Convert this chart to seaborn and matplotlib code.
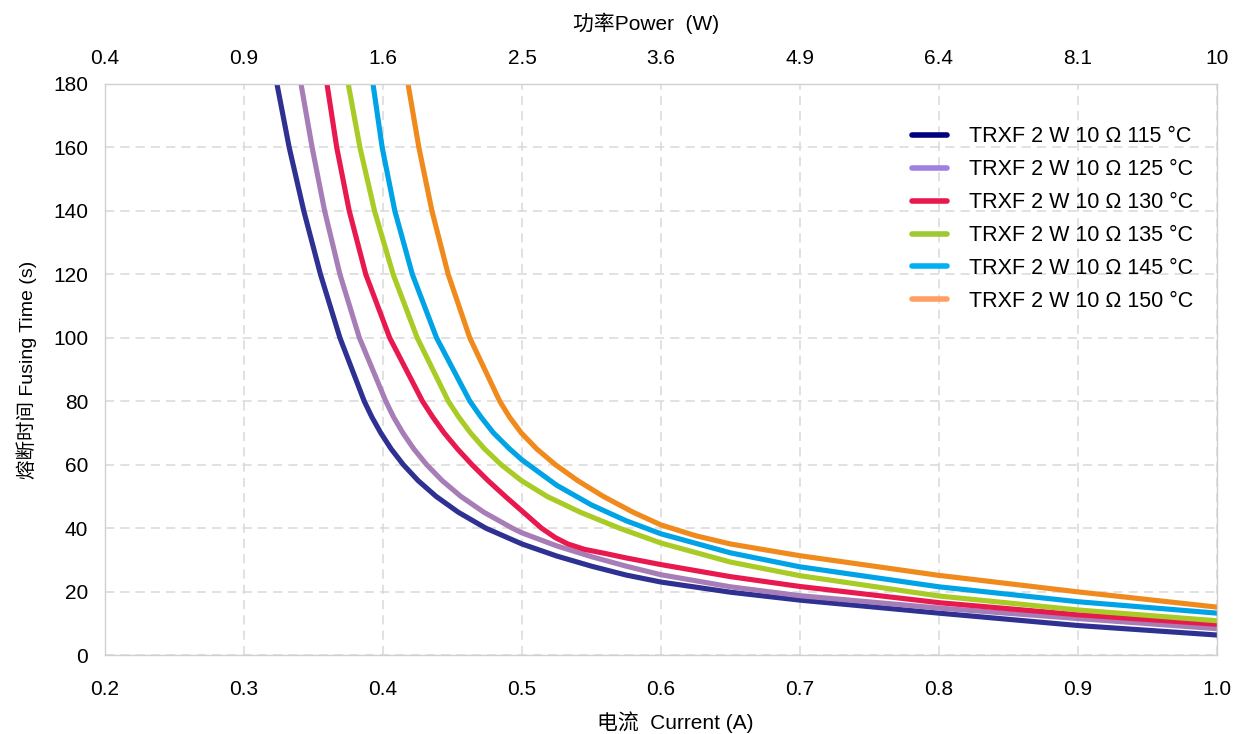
import numpy as np
import pandas as pd
import matplotlib
matplotlib.use("Agg")
import matplotlib.pyplot as plt
import seaborn as sns
from matplotlib.lines import Line2D

# === Data ===
series_labels = [
    "TRXF 2 W 10 Ω 115 °C",
    "TRXF 2 W 10 Ω 125 °C",
    "TRXF 2 W 10 Ω 130 °C",
    "TRXF 2 W 10 Ω 135 °C",
    "TRXF 2 W 10 Ω 145 °C",
    "TRXF 2 W 10 Ω 150 °C",
]

current_115 = [0.3237, 0.3325, 0.3430, 0.3550, 0.3690, 0.3865, 0.3920, 0.3984, 0.4058, 0.4146,
               0.4252, 0.4382, 0.4542, 0.4739, 0.500, 0.525, 0.550, 0.575, 0.600, 0.650,
               0.700, 0.800, 0.900, 1.000]
time_115 = [180, 160, 140, 120, 100, 80, 75, 70, 65, 60,
            55, 50, 45, 40, 35.0, 31.2, 28.0, 25.2, 23.0, 19.8,
            17.3, 13.2, 9.3, 6.3]

current_125 = [0.3410, 0.3490, 0.3580, 0.3690, 0.3830, 0.4020, 0.4076, 0.4143, 0.4221, 0.4314,
               0.4425, 0.4560, 0.4726, 0.4930, 0.500, 0.525, 0.550, 0.575, 0.600, 0.650,
               0.700, 0.800, 0.900, 1.000]
time_125 = [180, 160, 140, 120, 100, 80, 75, 70, 65, 60,
            55, 50, 45, 40, 38.5, 34.4, 31.0, 28.0, 25.3, 21.5,
            18.7, 14.8, 11.5, 8.3]

current_130 = [0.3597, 0.3667, 0.3757, 0.3876, 0.4048, 0.4284, 0.4358, 0.4440, 0.4535, 0.4640,
               0.4755, 0.4880, 0.5010, 0.5140, 0.5240, 0.5330, 0.5450, 0.5600, 0.5750, 0.600,
               0.650, 0.700, 0.800, 0.900, 1.000]
time_130 = [180, 160, 140, 120, 100, 80, 75, 70, 65, 60,
            55, 50, 45, 40, 37.0, 35.0, 33.3, 32.0, 30.6, 28.5,
            24.7, 21.6, 16.5, 12.7, 9.7]

current_135 = [0.3750, 0.3834, 0.3939, 0.4073, 0.4246, 0.4470, 0.4545, 0.4630, 0.4730, 0.4850,
               0.4995, 0.5180, 0.5420, 0.5700, 0.600, 0.650, 0.700, 0.800, 0.900, 1.000]
time_135 = [180, 160, 140, 120, 100, 80, 75, 70, 65, 60,
            55, 50, 45, 40, 35.3, 29.3, 25.0, 18.6, 14.2, 10.8]

current_145 = [0.3928, 0.3994, 0.4085, 0.4211, 0.4385, 0.4625, 0.4705, 0.4795, 0.4910,
               0.500, 0.525, 0.550, 0.575, 0.600, 0.650, 0.700, 0.800, 0.900, 1.000]
time_145 = [180, 160, 140, 120, 100, 80, 75, 70, 65,
            61.5, 53.5, 47.3, 42.3, 38.2, 32.2, 27.8, 21.5, 16.8, 13.2]

current_150 = [0.4180, 0.4258, 0.4352, 0.4469, 0.4624, 0.4840, 0.4910, 0.4995, 0.5105, 0.5240,
               0.5400, 0.5585, 0.5800, 0.600, 0.625, 0.650, 0.700, 0.800, 0.900, 1.000]
time_150 = [180, 160, 140, 120, 100, 80, 75, 70, 65, 60,
            55, 50, 45, 41.0, 37.6, 35.0, 31.3, 25.1, 19.9, 15.1]

currents = [current_115, current_125, current_130, current_135, current_145, current_150]
times = [time_115, time_125, time_130, time_135, time_145, time_150]

line_colors = ["#2E3192", "#A67DB7", "#E8194E", "#A8CB25", "#00A3E6", "#F08A1C"]
legend_colors = ["#000080", "#A080E0", "#E8194E", "#A0C830", "#00B0F0", "#FFA060"]

current_ticks = [0.2, 0.3, 0.4, 0.5, 0.6, 0.7, 0.8, 0.9, 1.0]
power_labels = ["0.4", "0.9", "1.6", "2.5", "3.6", "4.9", "6.4", "8.1", "10"]
time_ticks = [0, 20, 40, 60, 80, 100, 120, 140, 160, 180]

# === Long-format table ===
frames = []
for lab, cur, t in zip(series_labels, currents, times):
    frames.append(pd.DataFrame({"current": cur, "time": t, "series": lab}))
df = pd.concat(frames, ignore_index=True)

# === Style ===
sns.set_style("white")
plt.rcParams["font.family"] = ["Liberation Sans", "Noto Sans CJK SC"]
for key in ["text.color", "axes.labelcolor", "xtick.color", "ytick.color"]:
    plt.rcParams[key] = "black"
grid_color = "#D9D9D9"

fig = plt.figure(figsize=(12.34, 7.34), dpi=100)
ax = fig.add_axes([0.0851, 0.1076, 0.9011, 0.778])

sns.lineplot(
    data=df, x="current", y="time", hue="series",
    palette=line_colors, hue_order=series_labels,
    estimator=None, sort=True, linewidth=3.7, legend=False, ax=ax,
    solid_joinstyle="round",
)

ax.set_xlim(0.2, 1.0)
ax.set_ylim(0, 180)
ax.set_xticks(current_ticks)
ax.set_xticklabels([f"{v:.1f}" for v in current_ticks])
ax.set_yticks(time_ticks)
ax.tick_params(axis="both", length=0, labelsize=15)
ax.tick_params(axis="x", pad=18)
ax.tick_params(axis="y", pad=12)
ax.grid(True, color=grid_color, linestyle=(0, (6, 4)), linewidth=1.1)
for s in ax.spines.values():
    s.set_color("#D0D0D0")
    s.set_linewidth(1.0)

ax.set_xlabel("电流  Current (A)", fontsize=15, labelpad=9)
ax.xaxis.label.set_x(0.5126)
ax.set_ylabel("熔断时间 Fusing Time (s)", fontsize=14, labelpad=12)

# === Top axis: power at 10 Ω ===
ax2 = ax.twiny()
ax2.set_xlim(ax.get_xlim())
ax2.set_xticks(current_ticks)
ax2.set_xticklabels(power_labels)
ax2.tick_params(axis="x", length=0, labelsize=15, pad=11.5)
for s in ax2.spines.values():
    s.set_visible(False)
ax2.set_xlabel("功率Power  (W)", fontsize=15, labelpad=14)
ax2.xaxis.label.set_x(0.4865)

# === Legend ===
handles = [Line2D([0], [0], color=c, linewidth=4) for c in legend_colors]
ax.legend(
    handles, series_labels, loc="upper left", bbox_to_anchor=(0.7257, 0.926),
    frameon=False, fontsize=15.5, borderpad=0, borderaxespad=0,
    handlelength=1.65, handletextpad=1.0, labelspacing=0.555,
)

plt.savefig("out.png", dpi=100)
plt.close()
